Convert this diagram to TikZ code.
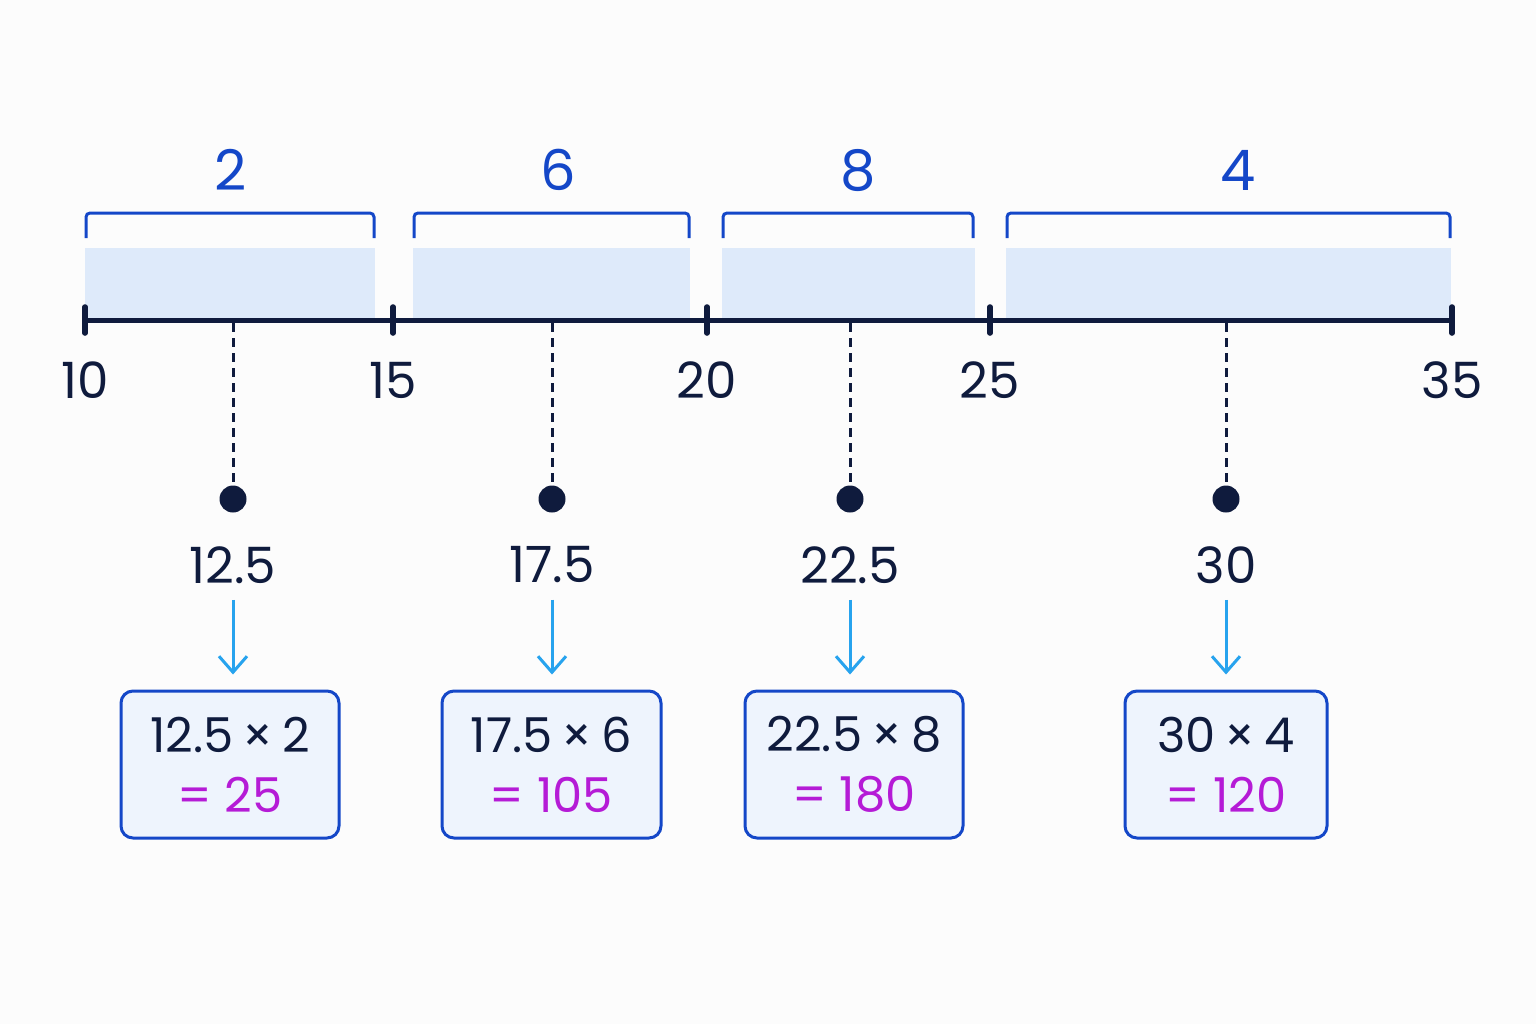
\documentclass[tikz,border=0pt]{standalone}
\usepackage{fontspec}
\setmainfont{Poppins}
\usepackage{tikz}
\usepackage{xcolor}
\usetikzlibrary{arrows.meta}

\definecolor{navy}{HTML}{0F1B3D}
\definecolor{bracketblue}{HTML}{1447C8}
\definecolor{shadeblue}{HTML}{DEEAFA}
\definecolor{arrowblue}{HTML}{27A3EE}
\definecolor{boxfill}{HTML}{EEF4FD}
\definecolor{sumpurple}{HTML}{B51BD6}

\newcommand{\by}{\hspace{4.5pt}×\hspace{4.5pt}}

\tikzset{
  bar/.style={fill=shadeblue, draw=none},
  brace/.style={draw=bracketblue, line width=1.5pt, rounded corners=2pt},
  freq/.style={text=bracketblue, inner sep=0pt, font=\fontsize{28}{30}\selectfont},
  numlabel/.style={text=navy, inner sep=0pt, font=\fontsize{25}{28}\selectfont},
  tick/.style={draw=navy, line width=2.8pt, line cap=round},
  guide/.style={draw=navy, line width=1.5pt, dash pattern=on 4.5pt off 3pt},
  middot/.style={circle, fill=navy, minimum size=13.5pt, inner sep=0pt},
  down/.style={draw=arrowblue, line width=1.5pt, -{Straight Barb[length=8pt, width=14pt, line width=1.5pt]}, shorten <=8pt, shorten >=7.5pt},
  calc/.style={draw=bracketblue, fill=boxfill, line width=1.5pt, rounded corners=6pt, minimum height=73.5pt, inner sep=0pt, align=center, text=navy, font=\fontsize{24}{30}\selectfont}
}

\begin{document}
\begin{tikzpicture}[x=0.5pt, y=-0.5pt]
\fill[white!98!gray] (0,0) rectangle (1536,1024);
\useasboundingbox (0,0) rectangle (1536,1024);

% shaded bars
\fill[bar] (85,248) rectangle (375,318);
\fill[bar] (413,248) rectangle (690,318);
\fill[bar] (722,248) rectangle (975,318);
\fill[bar] (1006,248) rectangle (1451,318);

% brackets with frequencies
\draw[brace] (86,238) -- (86,213) -- (374,213) -- (374,238);
\draw[brace] (414,238) -- (414,213) -- (689,213) -- (689,238);
\draw[brace] (723,238) -- (723,213) -- (973,213) -- (973,238);
\draw[brace] (1007,238) -- (1007,213) -- (1450,213) -- (1450,238);
\node[freq] (f1) at (231,170) {2};
\node[freq] (f2) at (558,170) {6};
\node[freq] (f3) at (858,170) {8};
\node[freq] (f4) at (1238,170) {4};

% axis
\draw[navy, line width=2.5pt] (85,320) -- (1452,320);
\foreach \x in {85,393,707,990,1452}
  \draw[tick] (\x,307) -- (\x,333);
\node[numlabel] (t10) at (85,380) {10};
\node[numlabel] (t15) at (393,380) {15};
\node[numlabel] (t20) at (707,380) {20};
\node[numlabel] (t25) at (990,380) {25};
\node[numlabel] (t35) at (1452,380) {35};

% midpoints
\coordinate (a1) at (233,323);
\coordinate (a2) at (552,323);
\coordinate (a3) at (850,323);
\coordinate (a4) at (1226,323);
\node[middot] (d1) at (233,499) {};
\node[middot] (d2) at (552,499) {};
\node[middot] (d3) at (850,499) {};
\node[middot] (d4) at (1226,499) {};
\draw[guide] (a1) -- (d1);
\draw[guide] (a2) -- (d2);
\draw[guide] (a3) -- (d3);
\draw[guide] (a4) -- (d4);

\node[numlabel] (m1) at (233,565) {12.5};
\node[numlabel] (m2) at (552,565) {17.5};
\node[numlabel] (m3) at (850,565) {22.5};
\node[numlabel] (m4) at (1226,565) {30};

% products
\node[calc, minimum width=109pt] (b1) at (230,764.5) {12.5\by 2\\\textcolor{sumpurple}{= 25}};
\node[calc, minimum width=109.5pt] (b2) at (551.5,764.5) {17.5\by 6\\\textcolor{sumpurple}{= 105}};
\node[calc, minimum width=109pt] (b3) at (854,764.5) {22.5\by 8\\\textcolor{sumpurple}{= 180}};
\node[calc, minimum width=101pt] (b4) at (1226,764.5) {30\by 4\\\textcolor{sumpurple}{= 120}};

\draw[down] (m1) -- (m1 |- b1.north);
\draw[down] (m2) -- (m2 |- b2.north);
\draw[down] (m3) -- (m3 |- b3.north);
\draw[down] (m4) -- (m4 |- b4.north);

\end{tikzpicture}
\end{document}
